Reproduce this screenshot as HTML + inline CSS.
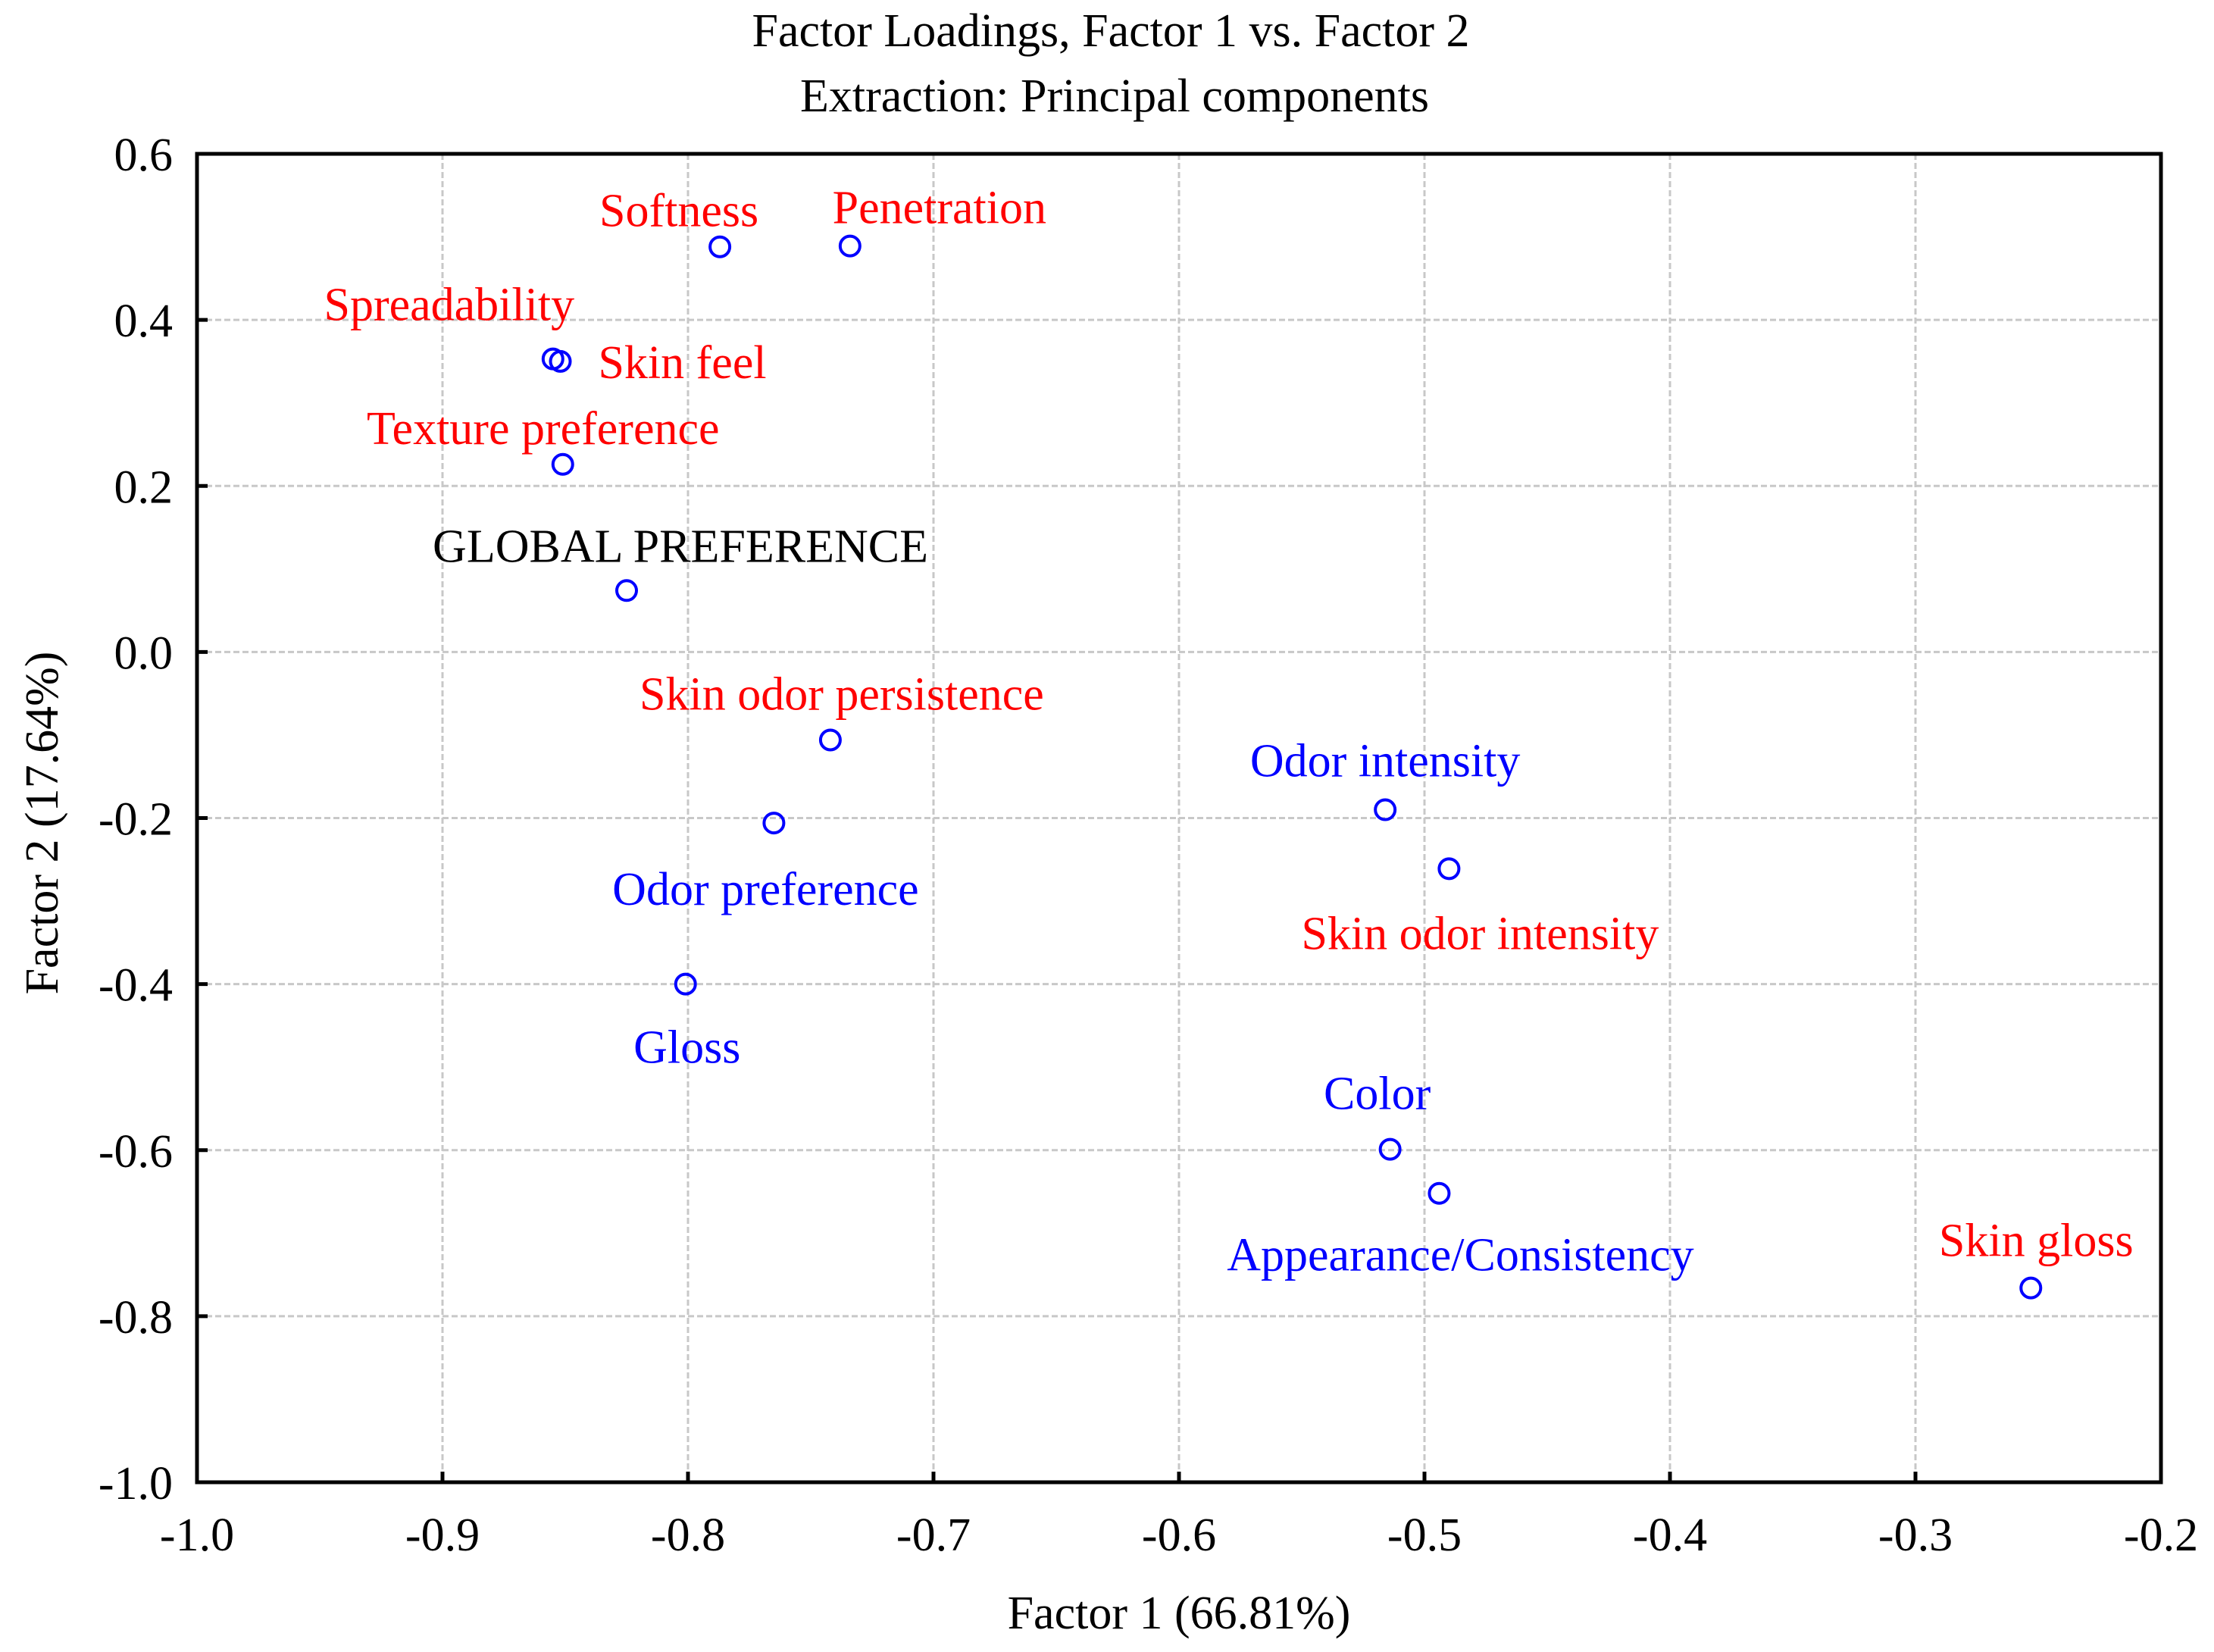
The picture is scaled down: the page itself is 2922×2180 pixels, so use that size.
<!DOCTYPE html>
<html><head><meta charset="utf-8"><style>
html,body{margin:0;padding:0;background:#fff;}
svg{display:block;font-family:"Liberation Serif",serif;}
</style></head><body>
<svg id="chart" width="2922" height="2180" viewBox="0 0 2922 2180" xmlns="http://www.w3.org/2000/svg">
<rect width="2922" height="2180" fill="#fff"/>
<text x="1466" y="61" font-size="62" text-anchor="middle">Factor Loadings, Factor 1 vs. Factor 2</text>
<text x="1471" y="147" font-size="62" text-anchor="middle">Extraction: Principal components</text>
<g id="grid"></g>
<g id="ticks"></g>
<g id="points"></g>
<rect x="260" y="203" width="2592" height="1753" fill="none" stroke="#000" stroke-width="5"/>
<text x="1556" y="2149" font-size="62" text-anchor="middle">Factor 1 (66.81%)</text>
<text transform="translate(76,1086) rotate(-90)" font-size="62" text-anchor="middle">Factor 2 (17.64%)</text>
</svg>
<script>
const names = ["Softness","Penetration","Spreadability","Skin feel","Texture preference","GLOBAL PREFERENCE","Skin odor persistence","Odor preference","Gloss","Odor intensity","Skin odor intensity","Color","Appearance/Consistency","Skin gloss"];
const factor1 = [-0.787,-0.734,-0.855,-0.852,-0.851,-0.825,-0.742,-0.765,-0.801,-0.516,-0.490,-0.514,-0.494,-0.253];
const factor2 = [0.488,0.489,0.353,0.350,0.226,0.074,-0.106,-0.206,-0.400,-0.190,-0.261,-0.599,-0.652,-0.766];
const labelColors = ["red","red","red","red","red","black","red","blue","blue","blue","red","blue","blue","red"];
const xTicks = [-1.0,-0.9,-0.8,-0.7,-0.6,-0.5,-0.4,-0.3,-0.2];
const yTicks = [0.6,0.4,0.2,0.0,-0.2,-0.4,-0.6,-0.8,-1.0];
const labelDx = [-54,118,-137,161,-26,71,15,-11,2,0,41,-17,28,7];
const labelDy = [-49,-52,-73,0,-49,-60,-62,86,82,-66,84,-75,80,-64];

const L=260,R=2852,T=203,B=1956;
const sx = v => L + (v - (-1.0)) / 0.8 * (R - L);
const sy = v => T + (0.6 - v) / 1.6 * (B - T);
const NS="http://www.w3.org/2000/svg";
function mk(tag, attrs, parent){const e=document.createElementNS(NS,tag);for(const k in attrs)e.setAttribute(k,attrs[k]);parent.appendChild(e);return e;}
const grid=document.getElementById('grid'), ticks=document.getElementById('ticks'), pts=document.getElementById('points');

xTicks.forEach((v,i)=>{
  const x=sx(v);
  if(i>0&&i<xTicks.length-1){
    const g=mk('line',{x1:x,x2:x,y1:T,y2:B,stroke:'#c8c8c8','stroke-width':3,'stroke-dasharray':'8,4'},grid);
    
    
    const t=mk('line',{x1:x,x2:x,y1:B,y2:B-14,stroke:'#000','stroke-width':5},ticks);
    
    
  }
  const lb=mk('text',{x:x,y:2046,'font-size':62,'text-anchor':'middle'},ticks);
  lb.textContent=v.toFixed(1);
  
  
});
yTicks.forEach((v,i)=>{
  const y=sy(v);
  if(i>0&&i<yTicks.length-1){
    const g=mk('line',{x1:L,x2:R,y1:y,y2:y,stroke:'#c8c8c8','stroke-width':3,'stroke-dasharray':'8,4'},grid);
    
    
    const t=mk('line',{x1:L,x2:L+14,y1:y,y2:y,stroke:'#000','stroke-width':5},ticks);
    
    
  }
  const lb=mk('text',{x:228,y:y+22,'font-size':62,'text-anchor':'end'},ticks);
  lb.textContent=v.toFixed(1);
  
  
});
names.forEach((n,i)=>{
  const cx=sx(factor1[i]), cy=sy(factor2[i]);
  const c=mk('circle',{cx:cx,cy:cy,r:13,fill:'none',stroke:'#0000ff','stroke-width':4},pts);
  
  
  const t=mk('text',{x:cx+labelDx[i],y:cy+labelDy[i]+22,'font-size':62,'text-anchor':'middle',fill:labelColors[i]},pts);
  t.textContent=n;
  
  
});
</script>
</body></html>
